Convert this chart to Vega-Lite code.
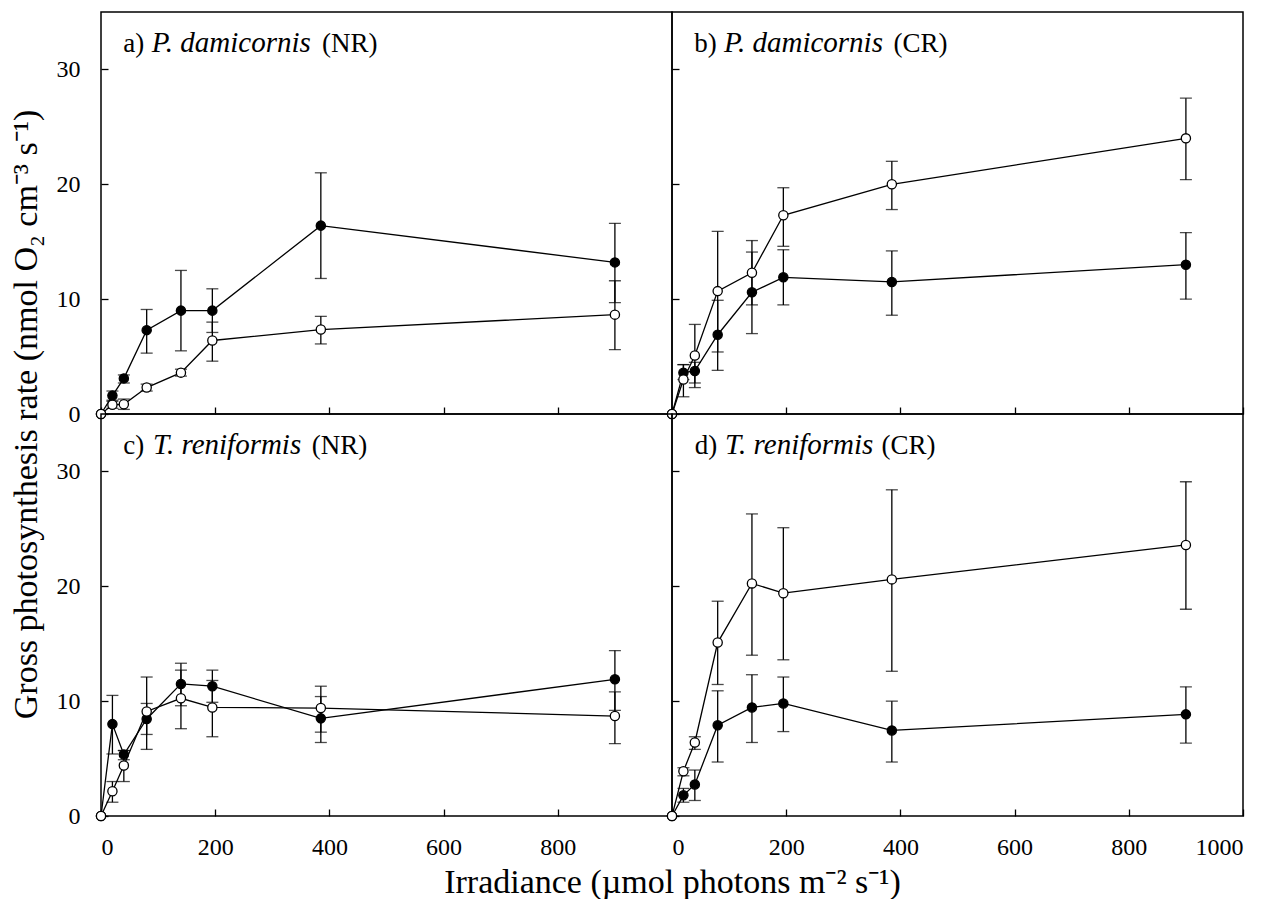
{
  "$schema": "https://vega.github.io/schema/vega-lite/v6.json",
  "background": "white",
  "padding": {"left": 8, "top": 11, "right": 5, "bottom": 0},
  "bounds": "flush",
  "spacing": 0,
  "columns": 2,
  "datasets": {
    "pts": [
      {"panel": "a", "series": "filled", "irr": 0, "rate": 0, "lo": null, "hi": null},
      {"panel": "a", "series": "filled", "irr": 20, "rate": 1.6, "lo": 1.2, "hi": 2.0},
      {"panel": "a", "series": "filled", "irr": 40, "rate": 3.1, "lo": 2.7, "hi": 3.4},
      {"panel": "a", "series": "filled", "irr": 80, "rate": 7.3, "lo": 5.3, "hi": 9.1},
      {"panel": "a", "series": "filled", "irr": 140, "rate": 9.0, "lo": 5.5, "hi": 12.5},
      {"panel": "a", "series": "filled", "irr": 195, "rate": 9.0, "lo": 7.1, "hi": 10.9},
      {"panel": "a", "series": "filled", "irr": 385, "rate": 16.4, "lo": 11.8, "hi": 21.0},
      {"panel": "a", "series": "filled", "irr": 900, "rate": 13.2, "lo": 9.7, "hi": 16.6},
      {"panel": "a", "series": "open", "irr": 0, "rate": 0, "lo": null, "hi": null},
      {"panel": "a", "series": "open", "irr": 20, "rate": 0.8, "lo": 0.5, "hi": 1.1},
      {"panel": "a", "series": "open", "irr": 40, "rate": 0.85, "lo": 0.4, "hi": 1.3},
      {"panel": "a", "series": "open", "irr": 80, "rate": 2.3, "lo": 2.0, "hi": 2.6},
      {"panel": "a", "series": "open", "irr": 140, "rate": 3.6, "lo": 3.3, "hi": 3.9},
      {"panel": "a", "series": "open", "irr": 195, "rate": 6.4, "lo": 4.6, "hi": 8.0},
      {"panel": "a", "series": "open", "irr": 385, "rate": 7.35, "lo": 6.1, "hi": 8.5},
      {"panel": "a", "series": "open", "irr": 900, "rate": 8.65, "lo": 5.6, "hi": 11.6},

      {"panel": "b", "series": "filled", "irr": 0, "rate": 0, "lo": null, "hi": null},
      {"panel": "b", "series": "filled", "irr": 20, "rate": 3.6, "lo": 3.0, "hi": 4.3},
      {"panel": "b", "series": "filled", "irr": 40, "rate": 3.75, "lo": 2.7, "hi": 4.5},
      {"panel": "b", "series": "filled", "irr": 80, "rate": 6.9, "lo": 3.8, "hi": 9.9},
      {"panel": "b", "series": "filled", "irr": 140, "rate": 10.6, "lo": 7.0, "hi": 14.1},
      {"panel": "b", "series": "filled", "irr": 195, "rate": 11.9, "lo": 9.5, "hi": 14.3},
      {"panel": "b", "series": "filled", "irr": 385, "rate": 11.5, "lo": 8.6, "hi": 14.2},
      {"panel": "b", "series": "filled", "irr": 900, "rate": 13.0, "lo": 10.0, "hi": 15.8},
      {"panel": "b", "series": "open", "irr": 0, "rate": 0, "lo": null, "hi": null},
      {"panel": "b", "series": "open", "irr": 20, "rate": 3.0, "lo": 1.5, "hi": 4.3},
      {"panel": "b", "series": "open", "irr": 40, "rate": 5.1, "lo": 2.3, "hi": 7.8},
      {"panel": "b", "series": "open", "irr": 80, "rate": 10.7, "lo": 5.4, "hi": 15.9},
      {"panel": "b", "series": "open", "irr": 140, "rate": 12.3, "lo": 9.5, "hi": 15.1},
      {"panel": "b", "series": "open", "irr": 195, "rate": 17.3, "lo": 14.6, "hi": 19.7},
      {"panel": "b", "series": "open", "irr": 385, "rate": 20.0, "lo": 17.8, "hi": 22.0},
      {"panel": "b", "series": "open", "irr": 900, "rate": 24.0, "lo": 20.4, "hi": 27.5},

      {"panel": "c", "series": "filled", "irr": 0, "rate": 0, "lo": null, "hi": null},
      {"panel": "c", "series": "filled", "irr": 20, "rate": 8.0, "lo": 5.4, "hi": 10.5},
      {"panel": "c", "series": "filled", "irr": 40, "rate": 5.35, "lo": 4.9, "hi": 5.7},
      {"panel": "c", "series": "filled", "irr": 80, "rate": 8.45, "lo": 7.1, "hi": 9.8},
      {"panel": "c", "series": "filled", "irr": 140, "rate": 11.5, "lo": 9.6, "hi": 13.3},
      {"panel": "c", "series": "filled", "irr": 195, "rate": 11.3, "lo": 9.9, "hi": 12.7},
      {"panel": "c", "series": "filled", "irr": 385, "rate": 8.5, "lo": 6.4, "hi": 10.4},
      {"panel": "c", "series": "filled", "irr": 900, "rate": 11.9, "lo": 9.2, "hi": 14.4},
      {"panel": "c", "series": "open", "irr": 0, "rate": 0, "lo": null, "hi": null},
      {"panel": "c", "series": "open", "irr": 20, "rate": 2.15, "lo": 1.2, "hi": 3.0},
      {"panel": "c", "series": "open", "irr": 40, "rate": 4.4, "lo": 3.0, "hi": 5.7},
      {"panel": "c", "series": "open", "irr": 80, "rate": 9.1, "lo": 5.8, "hi": 12.1},
      {"panel": "c", "series": "open", "irr": 140, "rate": 10.25, "lo": 7.6, "hi": 12.7},
      {"panel": "c", "series": "open", "irr": 195, "rate": 9.45, "lo": 6.9, "hi": 11.8},
      {"panel": "c", "series": "open", "irr": 385, "rate": 9.4, "lo": 7.3, "hi": 11.3},
      {"panel": "c", "series": "open", "irr": 900, "rate": 8.7, "lo": 6.3, "hi": 10.8},

      {"panel": "d", "series": "filled", "irr": 0, "rate": 0, "lo": null, "hi": null},
      {"panel": "d", "series": "filled", "irr": 20, "rate": 1.8, "lo": 1.2, "hi": 2.4},
      {"panel": "d", "series": "filled", "irr": 40, "rate": 2.75, "lo": 1.35, "hi": 4.0},
      {"panel": "d", "series": "filled", "irr": 80, "rate": 7.9, "lo": 4.7, "hi": 10.9},
      {"panel": "d", "series": "filled", "irr": 140, "rate": 9.45, "lo": 6.4, "hi": 12.3},
      {"panel": "d", "series": "filled", "irr": 195, "rate": 9.8, "lo": 7.35, "hi": 12.1},
      {"panel": "d", "series": "filled", "irr": 385, "rate": 7.45, "lo": 4.7, "hi": 10.0},
      {"panel": "d", "series": "filled", "irr": 900, "rate": 8.85, "lo": 6.35, "hi": 11.25},
      {"panel": "d", "series": "open", "irr": 0, "rate": 0, "lo": null, "hi": null},
      {"panel": "d", "series": "open", "irr": 20, "rate": 3.9, "lo": 3.5, "hi": 4.2},
      {"panel": "d", "series": "open", "irr": 40, "rate": 6.4, "lo": 5.8, "hi": 6.9},
      {"panel": "d", "series": "open", "irr": 80, "rate": 15.1, "lo": 11.45, "hi": 18.7},
      {"panel": "d", "series": "open", "irr": 140, "rate": 20.25, "lo": 14.0, "hi": 26.3},
      {"panel": "d", "series": "open", "irr": 195, "rate": 19.4, "lo": 13.6, "hi": 25.1},
      {"panel": "d", "series": "open", "irr": 385, "rate": 20.6, "lo": 12.6, "hi": 28.4},
      {"panel": "d", "series": "open", "irr": 900, "rate": 23.6, "lo": 18.0, "hi": 29.1}
    ],
    "labels": [
      {"panel": "a", "tag": "a)", "species": "P. damicornis", "site": "(NR)"},
      {"panel": "b", "tag": "b)", "species": "P. damicornis", "site": "(CR)"},
      {"panel": "c", "tag": "c)", "species": "T. reniformis", "site": "(NR)"},
      {"panel": "d", "tag": "d)", "species": "T. reniformis", "site": "(CR)"}
    ]
  },
  "concat": [
    {
      "width": 571, "height": 402,
      "layer": [
        {"data": {"name": "pts"}, "transform": [{"filter": "datum.panel == 'a'"}], "mark": {"type": "rule", "color": "black", "strokeWidth": 1.3},
         "encoding": {"x": {"field": "irr", "type": "quantitative", "scale": {"domain": [0, 1000], "nice": false}},
                      "y": {"field": "lo", "type": "quantitative", "scale": {"domain": [0, 35], "nice": false}}, "y2": {"field": "hi"}}},
        {"data": {"name": "pts"}, "transform": [{"filter": "datum.panel == 'a'"}], "mark": {"type": "tick", "orient": "horizontal", "size": 12, "thickness": 1.3, "color": "black"},
         "encoding": {"x": {"field": "irr", "type": "quantitative", "scale": {"domain": [0, 1000], "nice": false}},
                      "y": {"field": "lo", "type": "quantitative", "scale": {"domain": [0, 35], "nice": false}}}},
        {"data": {"name": "pts"}, "transform": [{"filter": "datum.panel == 'a'"}], "mark": {"type": "tick", "orient": "horizontal", "size": 12, "thickness": 1.3, "color": "black"},
         "encoding": {"x": {"field": "irr", "type": "quantitative", "scale": {"domain": [0, 1000], "nice": false}},
                      "y": {"field": "hi", "type": "quantitative", "scale": {"domain": [0, 35], "nice": false}}}},
        {"data": {"name": "pts"}, "transform": [{"filter": "datum.panel == 'a'"}], "mark": {"type": "line", "color": "black", "strokeWidth": 1.3},
         "encoding": {"x": {"field": "irr", "type": "quantitative", "scale": {"domain": [0, 1000], "nice": false}},
                      "y": {"field": "rate", "type": "quantitative", "scale": {"domain": [0, 35], "nice": false}},
                      "detail": {"field": "series", "type": "nominal"}}},
        {"data": {"name": "pts"}, "transform": [{"filter": "datum.panel == 'a'"}], "mark": {"type": "circle", "size": 85, "stroke": "black", "strokeWidth": 1.3, "opacity": 1},
         "encoding": {"x": {"field": "irr", "type": "quantitative", "scale": {"domain": [0, 1000], "nice": false},
                            "axis": {"values": [0, 200, 400, 600, 800, 1000], "labels": false, "title": null}},
                      "y": {"field": "rate", "type": "quantitative", "scale": {"domain": [0, 35], "nice": false},
                            "axis": {"values": [0, 10, 20, 30], "title": "Gross photosynthesis rate (nmol O₂ cm⁻³ s⁻¹)", "titleY": 402}},
                      "fill": {"field": "series", "type": "nominal", "scale": {"domain": ["filled", "open"], "range": ["black", "white"]}, "legend": null}}},
        {"data": {"name": "labels"}, "transform": [{"filter": "datum.panel == 'a'"}], "mark": {"type": "text", "align": "left", "baseline": "alphabetic", "fontSize": 27, "color": "black"},
         "encoding": {"x": {"datum": 39, "type": "quantitative", "scale": {"domain": [0, 1000], "nice": false}}, "y": {"datum": 31.5, "type": "quantitative", "scale": {"domain": [0, 35], "nice": false}}, "text": {"field": "tag"}}},
        {"data": {"name": "labels"}, "transform": [{"filter": "datum.panel == 'a'"}], "mark": {"type": "text", "align": "left", "baseline": "alphabetic", "fontSize": 29, "fontStyle": "italic", "color": "black"},
         "encoding": {"x": {"datum": 89, "type": "quantitative", "scale": {"domain": [0, 1000], "nice": false}}, "y": {"datum": 31.5, "type": "quantitative", "scale": {"domain": [0, 35], "nice": false}}, "text": {"field": "species"}}},
        {"data": {"name": "labels"}, "transform": [{"filter": "datum.panel == 'a'"}], "mark": {"type": "text", "align": "left", "baseline": "alphabetic", "fontSize": 27, "color": "black"},
         "encoding": {"x": {"datum": 387, "type": "quantitative", "scale": {"domain": [0, 1000], "nice": false}}, "y": {"datum": 31.5, "type": "quantitative", "scale": {"domain": [0, 35], "nice": false}}, "text": {"field": "site"}}}
      ]
    },
    {
      "width": 571, "height": 402,
      "layer": [
        {"data": {"name": "pts"}, "transform": [{"filter": "datum.panel == 'b'"}], "mark": {"type": "rule", "color": "black", "strokeWidth": 1.3},
         "encoding": {"x": {"field": "irr", "type": "quantitative", "scale": {"domain": [0, 1000], "nice": false}},
                      "y": {"field": "lo", "type": "quantitative", "scale": {"domain": [0, 35], "nice": false}}, "y2": {"field": "hi"}}},
        {"data": {"name": "pts"}, "transform": [{"filter": "datum.panel == 'b'"}], "mark": {"type": "tick", "orient": "horizontal", "size": 12, "thickness": 1.3, "color": "black"},
         "encoding": {"x": {"field": "irr", "type": "quantitative", "scale": {"domain": [0, 1000], "nice": false}},
                      "y": {"field": "lo", "type": "quantitative", "scale": {"domain": [0, 35], "nice": false}}}},
        {"data": {"name": "pts"}, "transform": [{"filter": "datum.panel == 'b'"}], "mark": {"type": "tick", "orient": "horizontal", "size": 12, "thickness": 1.3, "color": "black"},
         "encoding": {"x": {"field": "irr", "type": "quantitative", "scale": {"domain": [0, 1000], "nice": false}},
                      "y": {"field": "hi", "type": "quantitative", "scale": {"domain": [0, 35], "nice": false}}}},
        {"data": {"name": "pts"}, "transform": [{"filter": "datum.panel == 'b'"}], "mark": {"type": "line", "color": "black", "strokeWidth": 1.3},
         "encoding": {"x": {"field": "irr", "type": "quantitative", "scale": {"domain": [0, 1000], "nice": false}},
                      "y": {"field": "rate", "type": "quantitative", "scale": {"domain": [0, 35], "nice": false}},
                      "detail": {"field": "series", "type": "nominal"}}},
        {"data": {"name": "pts"}, "transform": [{"filter": "datum.panel == 'b'"}], "mark": {"type": "circle", "size": 85, "stroke": "black", "strokeWidth": 1.3, "opacity": 1},
         "encoding": {"x": {"field": "irr", "type": "quantitative", "scale": {"domain": [0, 1000], "nice": false},
                            "axis": {"values": [0, 200, 400, 600, 800, 1000], "labels": false, "title": null}},
                      "y": {"field": "rate", "type": "quantitative", "scale": {"domain": [0, 35], "nice": false},
                            "axis": {"values": [0, 10, 20, 30], "labels": false, "title": null}},
                      "fill": {"field": "series", "type": "nominal", "scale": {"domain": ["filled", "open"], "range": ["black", "white"]}, "legend": null}}},
        {"data": {"name": "labels"}, "transform": [{"filter": "datum.panel == 'b'"}], "mark": {"type": "text", "align": "left", "baseline": "alphabetic", "fontSize": 27, "color": "black"},
         "encoding": {"x": {"datum": 39, "type": "quantitative", "scale": {"domain": [0, 1000], "nice": false}}, "y": {"datum": 31.5, "type": "quantitative", "scale": {"domain": [0, 35], "nice": false}}, "text": {"field": "tag"}}},
        {"data": {"name": "labels"}, "transform": [{"filter": "datum.panel == 'b'"}], "mark": {"type": "text", "align": "left", "baseline": "alphabetic", "fontSize": 29, "fontStyle": "italic", "color": "black"},
         "encoding": {"x": {"datum": 91, "type": "quantitative", "scale": {"domain": [0, 1000], "nice": false}}, "y": {"datum": 31.5, "type": "quantitative", "scale": {"domain": [0, 35], "nice": false}}, "text": {"field": "species"}}},
        {"data": {"name": "labels"}, "transform": [{"filter": "datum.panel == 'b'"}], "mark": {"type": "text", "align": "left", "baseline": "alphabetic", "fontSize": 27, "color": "black"},
         "encoding": {"x": {"datum": 388, "type": "quantitative", "scale": {"domain": [0, 1000], "nice": false}}, "y": {"datum": 31.5, "type": "quantitative", "scale": {"domain": [0, 35], "nice": false}}, "text": {"field": "site"}}}
      ]
    },
    {
      "width": 571, "height": 402,
      "layer": [
        {"data": {"name": "pts"}, "transform": [{"filter": "datum.panel == 'c'"}], "mark": {"type": "rule", "color": "black", "strokeWidth": 1.3},
         "encoding": {"x": {"field": "irr", "type": "quantitative", "scale": {"domain": [0, 1000], "nice": false}},
                      "y": {"field": "lo", "type": "quantitative", "scale": {"domain": [0, 35], "nice": false}}, "y2": {"field": "hi"}}},
        {"data": {"name": "pts"}, "transform": [{"filter": "datum.panel == 'c'"}], "mark": {"type": "tick", "orient": "horizontal", "size": 12, "thickness": 1.3, "color": "black"},
         "encoding": {"x": {"field": "irr", "type": "quantitative", "scale": {"domain": [0, 1000], "nice": false}},
                      "y": {"field": "lo", "type": "quantitative", "scale": {"domain": [0, 35], "nice": false}}}},
        {"data": {"name": "pts"}, "transform": [{"filter": "datum.panel == 'c'"}], "mark": {"type": "tick", "orient": "horizontal", "size": 12, "thickness": 1.3, "color": "black"},
         "encoding": {"x": {"field": "irr", "type": "quantitative", "scale": {"domain": [0, 1000], "nice": false}},
                      "y": {"field": "hi", "type": "quantitative", "scale": {"domain": [0, 35], "nice": false}}}},
        {"data": {"name": "pts"}, "transform": [{"filter": "datum.panel == 'c'"}], "mark": {"type": "line", "color": "black", "strokeWidth": 1.3},
         "encoding": {"x": {"field": "irr", "type": "quantitative", "scale": {"domain": [0, 1000], "nice": false}},
                      "y": {"field": "rate", "type": "quantitative", "scale": {"domain": [0, 35], "nice": false}},
                      "detail": {"field": "series", "type": "nominal"}}},
        {"data": {"name": "pts"}, "transform": [{"filter": "datum.panel == 'c'"}], "mark": {"type": "circle", "size": 85, "stroke": "black", "strokeWidth": 1.3, "opacity": 1},
         "encoding": {"x": {"field": "irr", "type": "quantitative", "scale": {"domain": [0, 1000], "nice": false},
                            "axis": {"values": [0, 200, 400, 600, 800, 1000], "format": "d", "labelExpr": "datum.value == 1000 ? '' : datum.label", "title": "Irradiance (µmol photons m⁻² s⁻¹)", "titleX": 571}},
                      "y": {"field": "rate", "type": "quantitative", "scale": {"domain": [0, 35], "nice": false},
                            "axis": {"values": [0, 10, 20, 30], "title": null}},
                      "fill": {"field": "series", "type": "nominal", "scale": {"domain": ["filled", "open"], "range": ["black", "white"]}, "legend": null}}},
        {"data": {"name": "labels"}, "transform": [{"filter": "datum.panel == 'c'"}], "mark": {"type": "text", "align": "left", "baseline": "alphabetic", "fontSize": 27, "color": "black"},
         "encoding": {"x": {"datum": 39, "type": "quantitative", "scale": {"domain": [0, 1000], "nice": false}}, "y": {"datum": 31.5, "type": "quantitative", "scale": {"domain": [0, 35], "nice": false}}, "text": {"field": "tag"}}},
        {"data": {"name": "labels"}, "transform": [{"filter": "datum.panel == 'c'"}], "mark": {"type": "text", "align": "left", "baseline": "alphabetic", "fontSize": 29, "fontStyle": "italic", "color": "black"},
         "encoding": {"x": {"datum": 91, "type": "quantitative", "scale": {"domain": [0, 1000], "nice": false}}, "y": {"datum": 31.5, "type": "quantitative", "scale": {"domain": [0, 35], "nice": false}}, "text": {"field": "species"}}},
        {"data": {"name": "labels"}, "transform": [{"filter": "datum.panel == 'c'"}], "mark": {"type": "text", "align": "left", "baseline": "alphabetic", "fontSize": 27, "color": "black"},
         "encoding": {"x": {"datum": 369, "type": "quantitative", "scale": {"domain": [0, 1000], "nice": false}}, "y": {"datum": 31.5, "type": "quantitative", "scale": {"domain": [0, 35], "nice": false}}, "text": {"field": "site"}}}
      ]
    },
    {
      "width": 571, "height": 402,
      "layer": [
        {"data": {"name": "pts"}, "transform": [{"filter": "datum.panel == 'd'"}], "mark": {"type": "rule", "color": "black", "strokeWidth": 1.3},
         "encoding": {"x": {"field": "irr", "type": "quantitative", "scale": {"domain": [0, 1000], "nice": false}},
                      "y": {"field": "lo", "type": "quantitative", "scale": {"domain": [0, 35], "nice": false}}, "y2": {"field": "hi"}}},
        {"data": {"name": "pts"}, "transform": [{"filter": "datum.panel == 'd'"}], "mark": {"type": "tick", "orient": "horizontal", "size": 12, "thickness": 1.3, "color": "black"},
         "encoding": {"x": {"field": "irr", "type": "quantitative", "scale": {"domain": [0, 1000], "nice": false}},
                      "y": {"field": "lo", "type": "quantitative", "scale": {"domain": [0, 35], "nice": false}}}},
        {"data": {"name": "pts"}, "transform": [{"filter": "datum.panel == 'd'"}], "mark": {"type": "tick", "orient": "horizontal", "size": 12, "thickness": 1.3, "color": "black"},
         "encoding": {"x": {"field": "irr", "type": "quantitative", "scale": {"domain": [0, 1000], "nice": false}},
                      "y": {"field": "hi", "type": "quantitative", "scale": {"domain": [0, 35], "nice": false}}}},
        {"data": {"name": "pts"}, "transform": [{"filter": "datum.panel == 'd'"}], "mark": {"type": "line", "color": "black", "strokeWidth": 1.3},
         "encoding": {"x": {"field": "irr", "type": "quantitative", "scale": {"domain": [0, 1000], "nice": false}},
                      "y": {"field": "rate", "type": "quantitative", "scale": {"domain": [0, 35], "nice": false}},
                      "detail": {"field": "series", "type": "nominal"}}},
        {"data": {"name": "pts"}, "transform": [{"filter": "datum.panel == 'd'"}], "mark": {"type": "circle", "size": 85, "stroke": "black", "strokeWidth": 1.3, "opacity": 1},
         "encoding": {"x": {"field": "irr", "type": "quantitative", "scale": {"domain": [0, 1000], "nice": false},
                            "axis": {"values": [0, 200, 400, 600, 800, 1000], "format": "d", "title": null}},
                      "y": {"field": "rate", "type": "quantitative", "scale": {"domain": [0, 35], "nice": false},
                            "axis": {"values": [0, 10, 20, 30], "labels": false, "title": null}},
                      "fill": {"field": "series", "type": "nominal", "scale": {"domain": ["filled", "open"], "range": ["black", "white"]}, "legend": null}}},
        {"data": {"name": "labels"}, "transform": [{"filter": "datum.panel == 'd'"}], "mark": {"type": "text", "align": "left", "baseline": "alphabetic", "fontSize": 27, "color": "black"},
         "encoding": {"x": {"datum": 40, "type": "quantitative", "scale": {"domain": [0, 1000], "nice": false}}, "y": {"datum": 31.5, "type": "quantitative", "scale": {"domain": [0, 35], "nice": false}}, "text": {"field": "tag"}}},
        {"data": {"name": "labels"}, "transform": [{"filter": "datum.panel == 'd'"}], "mark": {"type": "text", "align": "left", "baseline": "alphabetic", "fontSize": 29, "fontStyle": "italic", "color": "black"},
         "encoding": {"x": {"datum": 93, "type": "quantitative", "scale": {"domain": [0, 1000], "nice": false}}, "y": {"datum": 31.5, "type": "quantitative", "scale": {"domain": [0, 35], "nice": false}}, "text": {"field": "species"}}},
        {"data": {"name": "labels"}, "transform": [{"filter": "datum.panel == 'd'"}], "mark": {"type": "text", "align": "left", "baseline": "alphabetic", "fontSize": 27, "color": "black"},
         "encoding": {"x": {"datum": 367, "type": "quantitative", "scale": {"domain": [0, 1000], "nice": false}}, "y": {"datum": 31.5, "type": "quantitative", "scale": {"domain": [0, 35], "nice": false}}, "text": {"field": "site"}}}
      ]
    }
  ],
  "config": {
    "font": "Liberation Serif",
    "view": {"stroke": "black", "strokeWidth": 1.5},
    "axis": {
      "domain": false, "grid": false,
      "tickColor": "black", "tickSize": -7, "tickWidth": 1.3,
      "labelFont": "Liberation Serif", "labelFontSize": 24, "labelColor": "black",
      "titleFont": "Liberation Serif", "titleFontSize": 34, "titleColor": "black", "titleFontWeight": "normal"
    },
    "axisX": {"labelPadding": 26, "titlePadding": 6},
    "axisY": {"labelPadding": 28, "titlePadding": 13}
  }
}
